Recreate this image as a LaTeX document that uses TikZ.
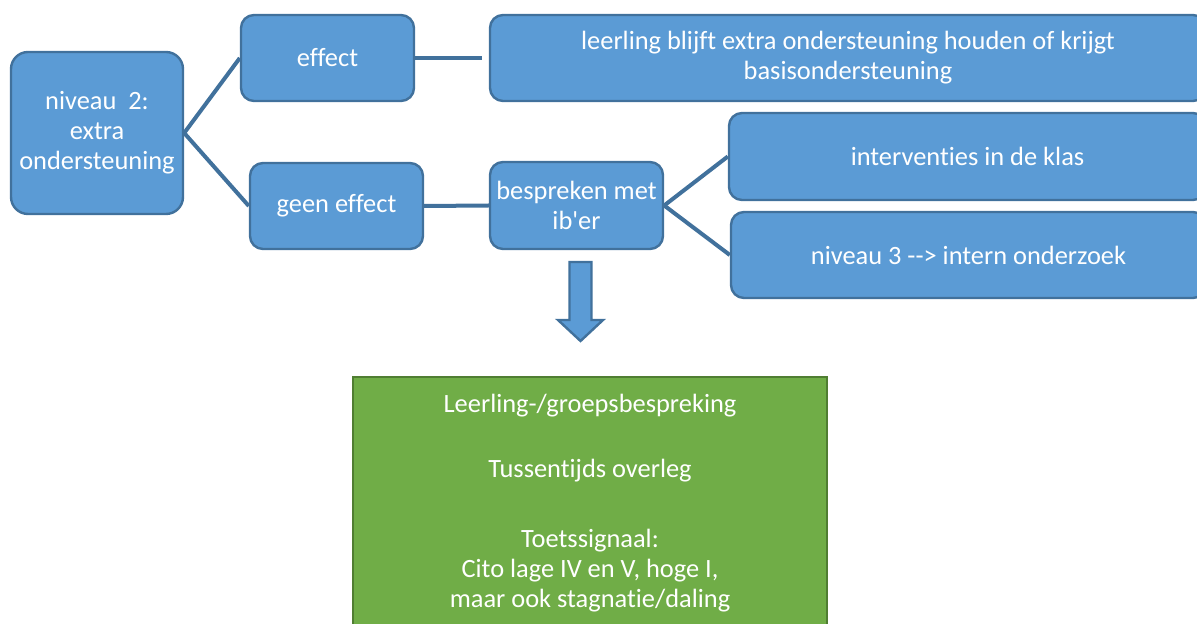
\documentclass[tikz,border=0pt]{standalone}
\usepackage{fontspec}
\setmainfont{Carlito}[Ligatures={TeXOff,NoCommon}]
\definecolor{boxblue}{HTML}{5B9BD5}
\definecolor{boxedge}{HTML}{41719C}
\definecolor{boxgreen}{HTML}{70AD47}
\definecolor{greenedge}{HTML}{507E32}
\tikzset{
	stap/.style={draw=boxedge, line width=1.2pt, fill=boxblue, text=white,
		rounded corners=6.5pt, align=center, inner sep=0pt,
		font=\fontsize{13.2}{15}\selectfont},
	tak/.style={draw=boxedge, line width=2pt},
}
\begin{document}
\begin{tikzpicture}[x=0.5pt,y=-0.5pt]
	\clip (0,0) rectangle (1197,624);
	% linker kolom
	\node[stap, rounded corners=8.5pt, minimum width=86pt, minimum height=81pt] (niveau) at (97,133) {niveau\ \ 2:\\extra\\ondersteuning};
	\node[stap, minimum width=86.5pt, minimum height=43pt] (effect) at (327.5,58) {effect};
	\node[stap, minimum width=86.5pt, minimum height=43pt] (geen) at (336.5,206) {geen effect};

	% rechter kolom
	\node[stap, minimum width=358pt, minimum height=43pt] (blijft) at (848,58) {leerling blijft extra ondersteuning houden of krijgt\\basisondersteuning};
	\node[stap, minimum width=86.5pt, minimum height=43.5pt] (bespreken) at (576.5,205.5) {bespreken met\\ib'er};
	\node[stap, minimum width=238.5pt, minimum height=43.5pt] (interventies) at (967.5,156.5) {interventies in de klas};
	\node[stap, minimum width=237.5pt, minimum height=43pt] (niveau3) at (968.5,255) {niveau 3 --> intern onderzoek};

	% takken
	\draw[tak] (niveau.east) -- (effect.west);
	\draw[tak] (niveau.east) -- (geen.west);
	\draw[tak, shorten >=3.5pt] (effect.east) -- (blijft.west);
	\draw[tak] (geen.east) -- (bespreken.west);
	\draw[tak] (bespreken.east) -- (interventies.west);
	\draw[tak] (bespreken.east) -- (niveau3.west);

	% blokpijl omlaag
	\draw[draw=boxedge, line width=1.2pt, fill=boxblue, line join=miter]
		(569.5,262) -- (591.5,262) -- (591.5,320) -- (603,320) -- (580.5,341)
		-- (558,320) -- (569.5,320) -- cycle;

	% overleg
	\node[draw=greenedge, line width=1.2pt, fill=boxgreen, text=white, align=center,
		inner sep=0pt, minimum width=237pt, minimum height=126pt,
		font=\fontsize{13.2}{15}\selectfont] (overleg) at (590,503)
		{Leerling-/groepsbespreking\\[17.5pt]Tussentijds overleg\\[20pt]Toetssignaal:\\Cito lage IV en V, hoge I,\\maar ook stagnatie/daling};
\end{tikzpicture}
\end{document}
